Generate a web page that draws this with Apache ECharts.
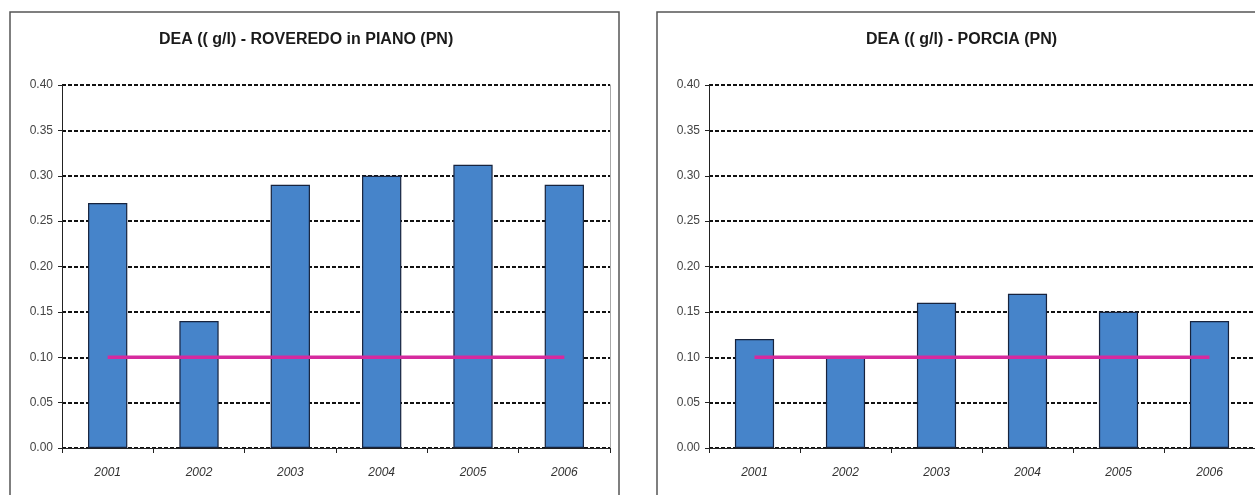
<!DOCTYPE html>
<html>
<head>
<meta charset="utf-8">
<script src="https://cdn.jsdelivr.net/npm/echarts@6/dist/echarts.min.js"></script>
<style>
html,body{margin:0;padding:0;background:#fff;}
#c{width:1255px;height:495px;}
</style>
</head>
<body>
<div id="c"></div>
<script>
var years = ['2001','2002','2003','2004','2005','2006'];
var roveredo = [0.27, 0.14, 0.29, 0.30, 0.312, 0.29];
var porcia = [0.12, 0.10, 0.16, 0.17, 0.15, 0.14];
var limitRoveredo = [0.10, 0.10, 0.10, 0.10, 0.10, 0.10];
var limitPorcia = [0.10, 0.10, 0.10, 0.10, 0.10, 0.10];
var titleLeft = 'DEA (( g/l) - ROVEREDO in PIANO (PN)';
var titleRight = 'DEA (( g/l) - PORCIA (PN)';

var FONT = '"Liberation Sans", Arial, sans-serif';
var chart = echarts.init(document.getElementById('c'));

function xAxis(gi){
  return {
    type:'category', gridIndex:gi, data:years, boundaryGap:true,
    axisLine:{show:true, lineStyle:{color:'#222', width:1}},
    axisTick:{show:true, inside:false, length:5, alignWithLabel:false, lineStyle:{color:'#222'}},
    axisLabel:{color:'#333', fontSize:12, fontStyle:'italic', fontFamily:FONT, margin:19},
    splitLine:{show:false}
  };
}
function yAxis(gi){
  return {
    type:'value', gridIndex:gi, min:0, max:0.4, interval:0.05,
    axisLine:{show:true, lineStyle:{color:'#222', width:1}},
    axisTick:{show:true, inside:false, length:4, lineStyle:{color:'#222'}},
    axisLabel:{color:'#444', fontSize:12, fontFamily:FONT, margin:9,
      formatter:function(v){return v.toFixed(2);}},
    splitLine:{show:true, lineStyle:{color:'#111', width:2, type:[4,2]}}
  };
}
function yRight(gi){
  return {
    type:'value', gridIndex:gi, min:0, max:0.4, interval:0.05, position:'right',
    axisLine:{show:true, lineStyle:{color:'#aaa', width:1}},
    axisTick:{show:false}, axisLabel:{show:false}, splitLine:{show:false}
  };
}
function bars(xi, data){
  return {type:'bar', xAxisIndex:xi, yAxisIndex:xi*2, data:data, barWidth:'43%',
    itemStyle:{color:'#4684ca', borderColor:'#17233d', borderWidth:1.2}, z:2, silent:true};
}
function limit(xi, data){
  return {type:'line', xAxisIndex:xi, yAxisIndex:xi*2, data:data, symbol:'none',
    lineStyle:{color:'#d62a9e', width:3.5}, z:3, silent:true};
}

chart.setOption({
  animation:false,
  backgroundColor:'#fff',
  title:[
    {text:titleLeft, left:154, top:27, textStyle:{fontFamily:FONT, fontSize:16, fontWeight:'bold', color:'#1a1a1a'}},
    {text:titleRight, left:861, top:27, textStyle:{fontFamily:FONT, fontSize:16, fontWeight:'bold', color:'#1a1a1a'}}
  ],
  grid:[
    {left:62, top:85, width:548, height:363},
    {left:709, top:85, width:548, height:363}
  ],
  xAxis:[xAxis(0), xAxis(1)],
  yAxis:[yAxis(0), yRight(0), yAxis(1), yRight(1)],
  series:[bars(0, roveredo), limit(0, limitRoveredo), bars(1, porcia), limit(1, limitPorcia)],
  graphic:[
    {type:'rect', shape:{x:10, y:12, width:609, height:520}, style:{fill:'none', stroke:'#555', lineWidth:1.5}, z:-1},
    {type:'rect', shape:{x:657, y:12, width:620, height:520}, style:{fill:'none', stroke:'#555', lineWidth:1.5}, z:-1}
  ]
});
</script>
</body>
</html>
